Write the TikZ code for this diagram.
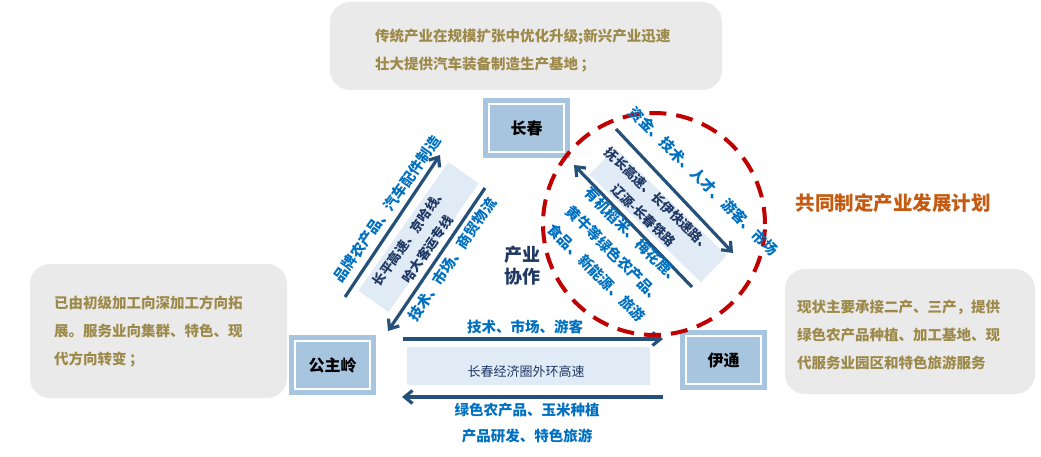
\documentclass[tikz,border=0pt]{standalone}
\usepackage{fontspec}
\setmainfont{Noto Sans CJK SC}
\usetikzlibrary{arrows.meta}
\definecolor{cityblue}{HTML}{A8C5E0}
\definecolor{notegray}{HTML}{EAEAEA}
\definecolor{notegold}{HTML}{9D8A4B}
\definecolor{bandblue}{HTML}{E0EBF6}
\definecolor{flownavy}{HTML}{24507A}
\definecolor{lblblue}{HTML}{0070C0}
\definecolor{textnavy}{HTML}{1F3864}
\definecolor{titleorange}{HTML}{C55A11}
\definecolor{planred}{HTML}{C00000}

\begin{document}
\begin{tikzpicture}[x=1pt,y=-1pt,>={Straight Barb[length=8pt,width=13pt]},
  city/.style={fill=cityblue,draw=cityblue,double=white,double distance=1.3pt,line width=5.5pt,
    minimum width=75pt,minimum height=48pt,inner sep=0pt,font=\bfseries\fontsize{16}{16}\selectfont},
  note/.style={fill=notegray,rounded corners=20pt,inner sep=0pt},
  notetext/.style={anchor=west,align=left,inner sep=0pt,text=notegold,font=\bfseries\fontsize{14.5}{28}\selectfont},
  band/.style={fill=bandblue,inner sep=0pt},
  bandtext/.style={inner sep=0pt,align=center,text=textnavy,font=\bfseries\fontsize{13}{22}\selectfont},
  lbl/.style={inner sep=0pt,align=center,text=lblblue,font=\bfseries\fontsize{14.5}{26}\selectfont},
  flow/.style={->,draw=flownavy,line width=3.2pt},
  plan/.style={draw=planred,circle,line width=4pt,dash pattern=on 17pt off 10pt,minimum size=222pt,inner sep=0pt}]
\useasboundingbox (0,0) rectangle (1041,457);
\node[note,minimum width=392pt,minimum height=88pt] (topbox) at (526,46) {};
\node[note,minimum width=257pt,minimum height=134pt] (leftbox) at (158.5,331) {};
\node[note,minimum width=250pt,minimum height=125pt] (rightbox) at (910,331.5) {};
\node[notetext] (toptext) at (375,50.5) {传统产业在规模扩张中优化升级;新兴产业迅速\\壮大提供汽车装备制造生产基地\,；};
\node[notetext] (lefttext) at (54,331.5) {已由初级加工向深加工方向拓\\展。服务业向集群、特色、现\\代方向转变\,；};
\node[notetext] (righttext) at (797,334.5) {现状主要承接二产、三产，提供\\绿色农产品种植、加工基地、现\\代服务业园区和特色旅游服务};
\node[font=\bfseries\fontsize{19.5}{20}\selectfont,text=titleorange] (plantitle) at (893,203) {共同制定产业发展计划};
\node[band,rotate=55,minimum width=157pt,minimum height=37pt] (cgband) at (418.5,237) {};
\node[band,rotate=-44,minimum width=155pt,minimum height=37pt] (cyband) at (658,215) {};
\node[band,minimum width=243pt,minimum height=38pt] (gyband) at (528.5,366) {};
\foreach \n/\x/\y/\t in {cc/526.5/128/长春,gzl/332.5/365/公主岭,yt/723.5/360/伊通}
  \node[city] (\n) at (\x,\y) {\t};
\foreach \n/\x/\y in {gcs/345/297,gce/440/155,cgs/485/188,cge/388/331,gys/403/339,gye/663/339,
  ygs/663/397,yge/402/397,cys/616/129,cye/733/253,ycs/692/287,yce/574/165}
  \coordinate (\n) at (\x,\y);
\foreach \s/\e in {gcs/gce,cgs/cge,gys/gye,ygs/yge,cys/cye,ycs/yce}
  \draw[flow] (\s) -- (\e);
\node[plan] (coplan) at (654,224) {};
\node[bandtext,rotate=55] (cgroad) at (418.5,243) {长平高速、京哈线、\\哈大客运专线};
\node[bandtext,rotate=-44] (cyroad) at (651,207.5) {抚长高速、长伊快速路、\\辽源-长春铁路};
\node[bandtext,font=\fontsize{13}{13}\selectfont] (gyroad) at (526,372) {长春经济圈外环高速};
\foreach \n/\x/\y/\r/\t in {
  gcflow/387/209/55/{品牌农产品、汽车配件制造},
  cgflow/452/259/56/{技术、市场、商贸物流},
  cyflow/703.5/181/-45/{资金、技术、人才、游客、市场},
  ycflow/615/254.5/-45/{有机稻米、梅花鹿、\\黄牛等绿色农产品、\\食品、新能源、旅游},
  gyflow/525/327/0/{技术、市场、游客},
  ygflow/527/423.5/0/{绿色农产品、玉米种植\\产品研发、特色旅游}%
}
  \node[lbl,rotate=\r] (\n) at (\x,\y) {\t};
\node[inner sep=0pt,align=center,text=textnavy,font=\bfseries\fontsize{18}{22}\selectfont] (coop) at (522,266) {产业\\协作};
\end{tikzpicture}
\end{document}
